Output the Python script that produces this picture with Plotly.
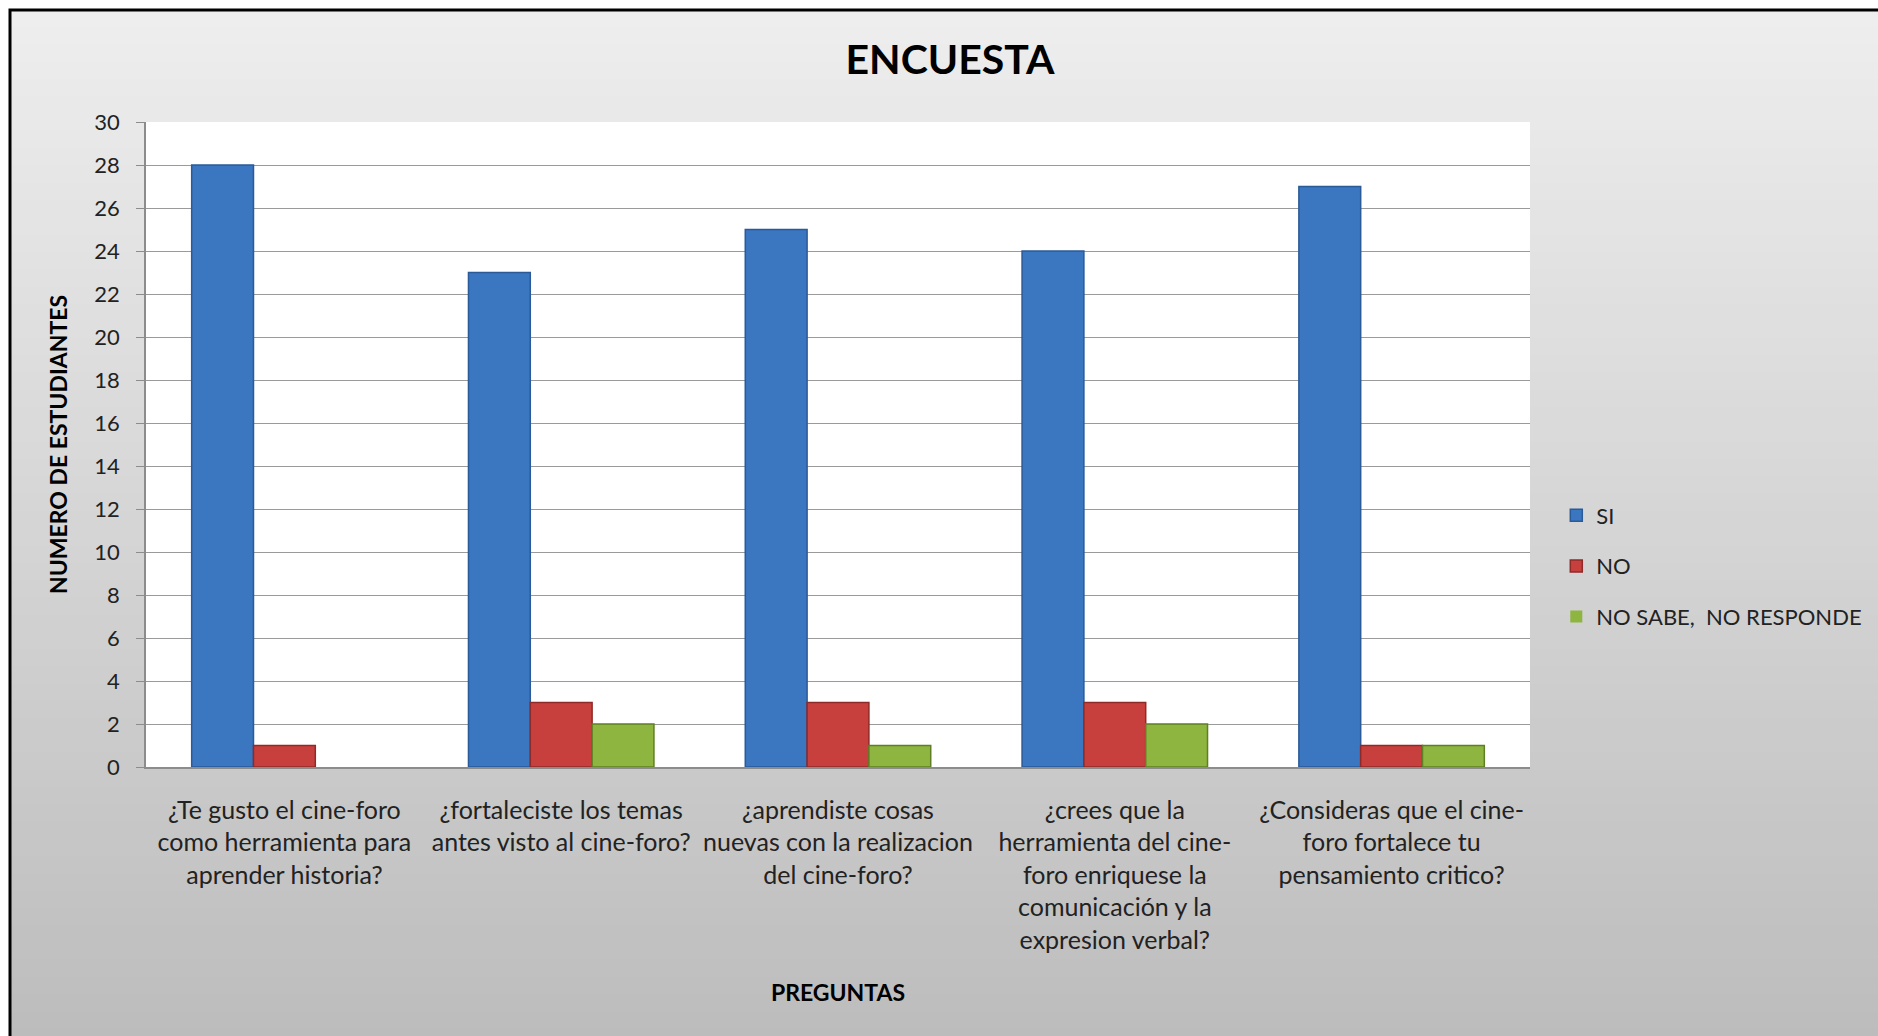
import plotly.graph_objects as go

preguntas = [
    "¿Te gusto el cine-foro<br>como herramienta para<br>aprender historia?",
    "¿fortaleciste los temas<br>antes visto al cine-foro?",
    "¿aprendiste cosas<br>nuevas con la realizacion<br>del cine-foro?",
    "¿crees que la<br>herramienta del cine-<br>foro enriquese la<br>comunicación y la<br>expresion verbal?",
    "¿Consideras que el cine-<br>foro fortalece tu<br>pensamiento critico?",
]
si = [28, 23, 25, 24, 27]
no = [1, 3, 3, 3, 1]
nsnr = [0, 2, 1, 2, 1]
y_ticks = list(range(0, 31, 2))

W, H = 1878, 1036
L, R, T, B = 146, 1530, 122, 767
FONT = "Lato"


def px2x(px):
    return (px - L) / (R - L)


def px2y(py):
    return (B - py) / (B - T)


def outline(vals, w=1.5):
    return [w if v > 0 else 0 for v in vals]


fig = go.Figure()
fig.add_trace(go.Bar(name="SI", x=preguntas, y=si, legendgroup="a",
                     marker=dict(color="#3b76c0", line=dict(color="#2a5a98", width=outline(si)))))
fig.add_trace(go.Bar(name="NO", x=preguntas, y=no, legendgroup="b",
                     marker=dict(color="#c8403d", line=dict(color="#8e2a28", width=outline(no)))))
fig.add_trace(go.Bar(name="NO SABE,  NO RESPONDE", x=preguntas, y=nsnr, legendgroup="c",
                     marker=dict(color="#8db53f", line=dict(color="#5f7f26", width=outline(nsnr)))))

shapes = []
# gradient background inside frame
N = 60
top_c, bot_c = 238, 188
for i in range(N):
    y0 = 10 + (H + 10 - 10) * i / N
    y1 = 10 + (H + 10 - 10) * (i + 1) / N
    c = round(top_c + (bot_c - top_c) * (i + 0.5) / N)
    shapes.append(dict(type="rect", xref="paper", yref="paper",
                       x0=px2x(10), x1=px2x(W + 20), y0=px2y(y0), y1=px2y(y1 + 1),
                       fillcolor=f"rgb({c},{c},{c})", line=dict(width=0), layer="below"))
# white plot area
shapes.append(dict(type="rect", xref="paper", yref="paper", x0=0, x1=1, y0=0, y1=1,
                   fillcolor="white", line=dict(width=0), layer="below"))
# frame
shapes.append(dict(type="rect", xref="paper", yref="paper",
                   x0=px2x(10), x1=px2x(W + 20), y0=px2y(10), y1=px2y(H + 20),
                   fillcolor="rgba(0,0,0,0)", line=dict(color="black", width=3), layer="above"))

fig.update_layout(
    width=W, height=H, autosize=False,
    margin=dict(l=L, r=W - R, t=T, b=H - B, pad=0, autoexpand=False),
    paper_bgcolor="white", plot_bgcolor="white",
    barmode="group", bargap=0.33, bargroupgap=0,
    font=dict(family=FONT, color="#222222", size=22),
    title=dict(text="<b>ENCUESTA</b>", x=950 / W, xanchor="center",
               y=1 - 60 / H, yanchor="middle",
               font=dict(family=FONT, size=41, color="black")),
    legend=dict(x=1.019, y=px2y(566), xanchor="left", yanchor="middle",
                font=dict(family=FONT, size=22, color="#222222"),
                bgcolor="rgba(0,0,0,0)", tracegroupgap=19, itemwidth=30),
    shapes=shapes,
    showlegend=True,
)
fig.update_yaxes(
    range=[0, 30], tickvals=y_ticks, ticks="outside", ticklen=8, tickcolor="#8c8c8c",
    ticklabelstandoff=12,
    showgrid=True, gridcolor="#9a9a9a", gridwidth=1,
    showline=True, linecolor="#8c8c8c", linewidth=1.5, zeroline=False,
    tickfont=dict(family=FONT, size=22, color="#222222"),
    title=dict(text="<b>NUMERO DE ESTUDIANTES</b>", standoff=20,
               font=dict(family=FONT, size=23, color="black")),
)
fig.update_xaxes(
    showline=True, linecolor="#8c8c8c", linewidth=1.5,
    ticks="outside", ticklen=20, tickcolor="rgba(0,0,0,0)",
    tickfont=dict(family=FONT, size=25, color="#222222"),
    title=dict(text="<b>PREGUNTAS</b>", standoff=32,
               font=dict(family=FONT, size=23, color="black")),
    tickangle=0,
)

fig.write_html(
    "out.html",
    config={"displayModeBar": False, "responsive": False},
    post_script="document.body.style.margin='0';document.body.style.overflow='hidden';"
                "document.documentElement.style.overflow='hidden';",
)
